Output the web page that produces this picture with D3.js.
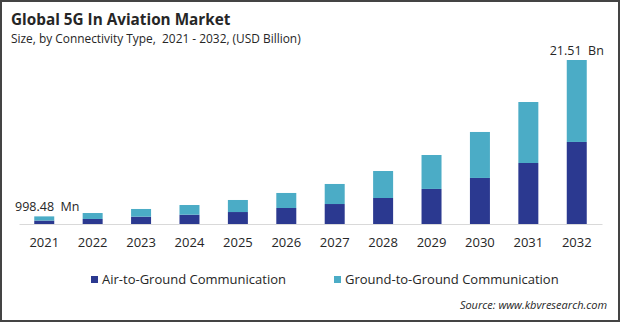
<!DOCTYPE html>
<html>
<head>
<meta charset="utf-8">
<script src="https://cdn.jsdelivr.net/npm/d3@7"></script>
<style>
  html, body { margin: 0; padding: 0; background: #fff; }
  svg { display: block; font-family: "Open Sans", sans-serif; }
</style>
</head>
<body>
<svg id="chart"></svg>
<script>
// market size by connectivity type, USD billion
const years = ["2021", "2022", "2023", "2024", "2025", "2026", "2027", "2028", "2029", "2030", "2031", "2032"];
const airToGround = [0.45, 0.66, 0.96, 1.22, 1.57, 2.10, 2.62, 3.41, 4.60, 6.04, 8.00, 10.76];
const groundToGround = [0.548, 0.78, 1.01, 1.27, 1.58, 1.97, 2.63, 3.54, 4.45, 6.03, 8.00, 10.75];
const seriesNames = ["Air-to-Ground Communication", "Ground-to-Ground Communication"];
const seriesColors = ["#2b3990", "#4bacc6"];
const endLabels = { "2021": "998.48  Mn", "2032": "21.51  Bn" };

const width = 620, height = 322;

const svg = d3.select("#chart").attr("width", width).attr("height", height);

// outer frame
svg.append("rect")
  .attr("x", 1).attr("y", 1)
  .attr("width", width - 2).attr("height", height - 2)
  .attr("fill", "none")
  .attr("stroke", "#444")
  .attr("stroke-width", 2);

svg.append("text")
  .attr("x", 11).attr("y", 25)
  .attr("font-size", 15.3).attr("font-weight", "bold")
  .attr("fill", "#262626")
  .text("Global 5G In Aviation Market");

svg.append("text")
  .attr("x", 11).attr("y", 43)
  .attr("font-size", 11.9)
  .attr("fill", "#262626")
  .style("white-space", "pre")
  .text("Size, by Connectivity Type,  2021 - 2032, (USD Billion)");

const rows = years.map((y, i) => ({
  year: y,
  air: airToGround[i],
  ground: groundToGround[i]
}));

const stack = d3.stack().keys(["air", "ground"]);
const layers = stack(rows);

const x = d3.scaleBand()
  .domain(years)
  .range([19, 602])
  .paddingInner(0.587)
  .paddingOuter(0.315);

const total = d => d.air + d.ground;
const y = d3.scaleLinear()
  .domain([0, d3.max(rows, total)])
  .range([224, 60]);

svg.append("g")
  .selectAll("g")
  .data(layers)
  .join("g")
  .attr("fill", (d, i) => seriesColors[i])
  .selectAll("rect")
  .data(d => d)
  .join("rect")
  .attr("x", d => x(d.data.year))
  .attr("width", x.bandwidth())
  .attr("y", d => y(d[1]))
  .attr("height", d => y(d[0]) - y(d[1]));

// baseline + year labels
const xAxis = d3.axisBottom(x).tickSize(0).tickPadding(14);
const axisG = svg.append("g")
  .attr("transform", `translate(0,${y(0)})`)
  .call(xAxis);
axisG.select(".domain").attr("stroke", "#d9d9d9");
axisG.selectAll("text")
  .attr("font-size", 13)
  .attr("font-family", "Open Sans, sans-serif")
  .attr("fill", "#262626");

// value labels on first and last bars
svg.append("g")
  .selectAll("text")
  .data(rows.filter(d => endLabels[d.year]))
  .join("text")
  .attr("x", d => x(d.year) + x.bandwidth() / 2 + (d.year === "2021" ? 3 : 0))
  .attr("y", d => y(total(d)) - 5)
  .attr("text-anchor", "middle")
  .attr("font-size", 12.5)
  .attr("fill", "#262626")
  .style("white-space", "pre")
  .text(d => endLabels[d.year]);

// legend
const legendX = [91, 334];
const legend = svg.append("g")
  .selectAll("g")
  .data(seriesNames)
  .join("g")
  .attr("transform", (d, i) => `translate(${legendX[i]},276)`);
legend.append("rect")
  .attr("width", 7).attr("height", 7)
  .attr("fill", (d, i) => seriesColors[i]);
legend.append("text")
  .attr("x", 11).attr("y", 8)
  .attr("font-size", 13)
  .attr("fill", "#262626")
  .text(d => d);

svg.append("text")
  .attr("x", 607).attr("y", 309)
  .attr("text-anchor", "end")
  .attr("font-size", 11)
  .attr("font-style", "italic")
  .attr("fill", "#262626")
  .text("Source: www.kbvresearch.com");
</script>
</body>
</html>
